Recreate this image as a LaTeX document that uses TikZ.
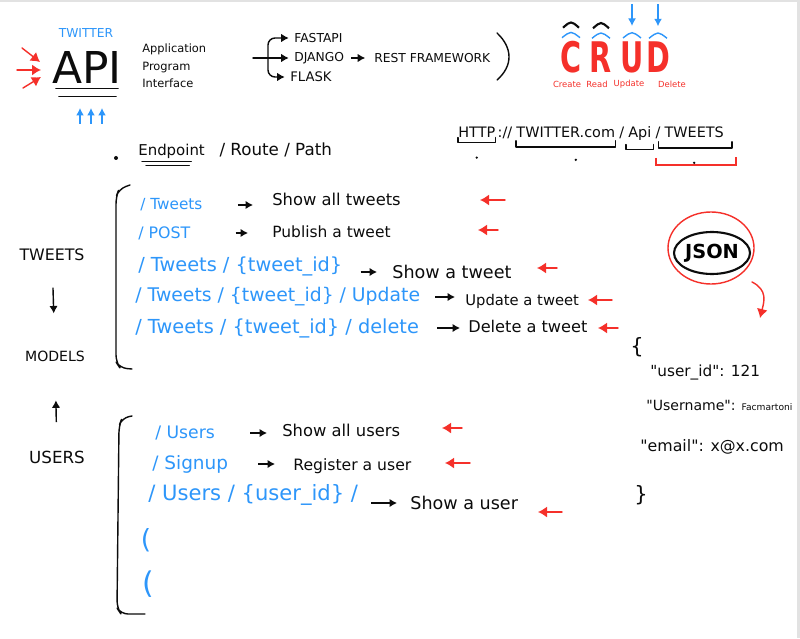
\documentclass[tikz,border=0pt]{standalone}
\usepackage{fontspec}
\setmainfont{DejaVu Sans}[Ligatures=TeXOff]
\usepackage{graphicx}
\usepackage{tikz}
\usetikzlibrary{arrows.meta,positioning,calc,shapes.geometric}
\definecolor{ink}{RGB}{12,12,12}
\definecolor{sky}{RGB}{45,150,250}
\definecolor{marker}{RGB}{245,48,42}
\definecolor{edge}{RGB}{226,226,226}
\newcommand{\fsz}[1]{\fontsize{#1}{#1}\selectfont}
\newcommand{\narrow}[1]{\scalebox{0.68}[1]{#1}}
\tikzset{
  hand/.style={thick,ink,line cap=round,line join=round},
  pointer/.style={thick,ink,-{Latex[length=1.5mm,width=1.7mm]}},
  flag/.style={thick,marker,line cap=round,-{Latex[length=1.8mm,width=2.2mm]}},
  tip/.style={thick,sky,-{Latex[length=1.5mm,width=1.6mm]}},
  route/.style={text=sky,anchor=west,inner sep=0pt},
  task/.style={text=ink,anchor=west,inner sep=0pt},
  note/.style={text=ink,inner sep=0pt},
  url/.style={text=ink,inner sep=0pt,font=\fsz{8.2}},
  crud/.style={text=marker,inner sep=0pt,font=\bfseries\fsz{24}},
  crudword/.style={text=marker,inner sep=0pt,font=\fsz{4.8}},
  gap/.style 2 args={shorten <=#1,shorten >=#2}
}

\begin{document}
\begin{tikzpicture}[x=0.02cm,y=-0.02cm]
  \fill[edge] (0,0) rectangle (800,638);
  \fill[white] (0,2.5) rectangle (797,638);
  \useasboundingbox (0,0) rectangle (800,638);

  % API corner
  \node[text=sky,inner sep=0pt,font=\fsz{7}] (twitter) at (86,33) {TWITTER};
  \node[note,font=\fsz{25}] (api) at (87,67) {API};
  \draw[hand] ($(api.south west)+(4,5)$) -- ($(api.south east)+(-4,5)$);
  \draw[hand] ($(api.south west)+(7,13)$) -- ($(api.south east)+(-6,13)$);
  \coordinate (h1) at (22,48); \coordinate (t1) at (40,62);
  \coordinate (h2) at (17,70); \coordinate (t2) at (41,70);
  \coordinate (h3) at (23,88); \coordinate (t3) at (41,77);
  \draw[flag] (h1) -- (t1);
  \draw[flag] (h2) -- (t2);
  \draw[flag] (h3) -- (t3);
  \foreach \x in {80,91,102}
    \draw[tip] (\x,124) -- (\x,108);
  \node[task,align=left,font=\fontsize{6.5}{10}\selectfont] (acronym) at (142,66)
    {Application\\Program\\Interface};

  % frameworks
  \coordinate (fwin) at (253,58);
  \coordinate (hub) at (268,58);
  \node[task,font=\fsz{7}] (fastapi) at (294,38) {FASTAPI};
  \node[task,font=\fsz{7}] (django) at (294,58) {DJANGO};
  \node[task,font=\fsz{7}] (rest) at (374,58) {REST FRAMEWORK};
  \node[task,font=\fsz{7.5}] (flask) at (290,77) {FLASK};
  \draw[hand] (fwin) -- (hub);
  \draw[pointer,rounded corners=4pt,shorten >=3pt] (hub) |- (fastapi.west);
  \draw[pointer,shorten >=3pt] (hub) -- (django.west);
  \draw[pointer,rounded corners=4pt,shorten >=3pt] (hub) |- (flask.west);
  \draw[pointer,gap={4pt}{5pt}] (django) -- (rest);
  \draw[hand] (497,33) .. controls (513,48) and (513,66) .. (497,80);

  % CRUD
  \node[crud] (crudc) at (571,57) {\narrow{C}};
  \node[crud] (crudr) at (601,57) {\narrow{R}};
  \node[crud] (crudu) at (632,57) {\narrow{U}};
  \node[crud] (crudd) at (658,57) {\narrow{D}};
  \foreach \l in {crudc,crudr,crudu,crudd}
    \draw[sky,thick] ($(\l.north)+(-9,-3)$) .. controls ($(\l.north)+(0,-10)$) .. ($(\l.north)+(9,-3)$);
  \foreach \l in {crudc,crudr}
    \draw[ink,very thick] ($(\l.north)+(-8,-13)$) .. controls ($(\l.north)+(0,-20)$) .. ($(\l.north)+(8,-13)$);
  \draw[tip] ($(crudu.north)+(0,-37)$) -- ($(crudu.north)+(0,-15)$);
  \draw[tip] ($(crudd.north)+(0,-37)$) -- ($(crudd.north)+(0,-15)$);
  \node[crudword] (create) at (567,84) {Create};
  \node[crudword] (read) at (597,84) {Read};
  \node[crudword] (update) at (629,84) {Update};
  \node[crudword] (delete) at (672,84) {Delete};

  % endpoint
  \fill[ink] (116,158) circle (2);
  \node[task,font=\fsz{8.5}] (endpoint) at (138,151) {Endpoint};
  \node[url,font=\fsz{9.5},base right=8pt of endpoint] (routepath) {/ Route / Path};
  \draw[hand] ($(endpoint.south west)+(4,3)$) -- ($(endpoint.south east)+(-14,3)$);
  \draw[hand] ($(endpoint.south west)+(8,7)$) -- ($(endpoint.south east)+(-16,7)$);

  % url
  \node[url,anchor=west] (http) at (458,132) {HTTP};
  \node[url,base right=1pt of http] (colon) {://};
  \node[url,base right=2pt of colon] (host) {TWITTER.com};
  \node[url,base right=2pt of host] (slasha) {/};
  \node[url,base right=2pt of slasha] (apipart) {Api};
  \node[url,base right=2pt of apipart] (slashb) {/};
  \node[url,base right=2pt of slashb] (tweetspart) {TWEETS};
  \draw[hand] (http.south west) -- ++(0,5) -| (http.south east);
  \draw[hand] ($(host.south west)+(0,3)$) -- ++(0,6) -| ($(host.south east)+(0,3)$);
  \draw[hand] ($(apipart.south west)+(-2,4)$) -- ++(0,5) -| ($(apipart.south east)+(2,4)$);
  \draw[hand] ($(tweetspart.south west)+(-6,4)$) -- ++(0,6) -| ($(tweetspart.south east)+(8,4)$);
  \draw[marker,very thick] ($(tweetspart.south west)+(-8,20)$) -- ++(0,7) -| ($(tweetspart.south east)+(12,19)$);
  \fill[ink] ($(http.south)+(0,20)$) circle (1.3);
  \fill[ink] ($(host.south)+(10,22)$) circle (1.3);
  \fill[ink] ($(tweetspart.south)+(0,25)$) circle (1.3);

  % group labels
  \node[note,font=\fsz{9}] (tweetsgrp) at (52,255) {TWEETS};
  \node[note,font=\fsz{8}] (models) at (55,356) {MODELS};
  \node[note,font=\fsz{9.5}] (usersgrp) at (57,457) {USERS};
  \draw[pointer,gap={15pt}{21pt}] (tweetsgrp) -- (models);
  \draw[pointer,gap={16pt}{22pt}] (usersgrp) -- (models);

  % tweets routes
  \draw[hand,rounded corners=4pt] (130,185) -- (119,189) -- (116,197) -- (116,362) -- (120,368) -- (132,369);
  \node[route,font=\fsz{8.7}] (r1) at (140,205) {/ Tweets};
  \node[route,font=\fsz{9}] (r2) at (138,233) {/ POST};
  \node[route,font=\fsz{11}] (r3) at (138,266) {/ Tweets / \{tweet\_id\}};
  \node[route,font=\fsz{10.7}] (r4) at (135,297) {/ Tweets / \{tweet\_id\} / Update};
  \node[route,font=\fsz{11}] (r5) at (135,328) {/ Tweets / \{tweet\_id\} / delete};
  \node[task,font=\fsz{9.3}] (d1) at (272,199) {Show all tweets};
  \node[task,font=\fsz{8.8}] (d2) at (272,232) {Publish a tweet};
  \node[task,font=\fsz{10}] (d3) at (392,272) {Show a tweet};
  \node[task,font=\fsz{8.4}] (d4) at (465,301) {Update a tweet};
  \node[task,font=\fsz{9.2}] (d5) at (468,326) {Delete a tweet};
  \draw[pointer,gap={7mm}{3.8mm}] (r1.east) -- (r1.east -| d1.west);
  \draw[pointer,gap={9mm}{4.8mm}] (r2.east) -- (r2.east -| d2.west);
  \draw[pointer,gap={3.6mm}{3mm}] (r3.east |- d3.west) -- (d3.west);
  \draw[pointer,gap={3mm}{2mm}] (r4.east) -- (r4.east -| d4.west);
  \draw[pointer,gap={3.6mm}{1.6mm}] (r5.east) -- (r5.east -| d5.west);
  \coordinate (f1) at (505,200); \coordinate (g1) at (480,200);
  \coordinate (f2) at (498,230); \coordinate (g2) at (478,230);
  \coordinate (f3) at (557,268); \coordinate (g3) at (537,268);
  \coordinate (f4) at (612,300); \coordinate (g4) at (588,300);
  \coordinate (f5) at (618,328); \coordinate (g5) at (598,328);
  \draw[flag] (f1) -- (g1);
  \draw[flag] (f2) -- (g2);
  \draw[flag] (f3) -- (g3);
  \draw[flag] (f4) -- (g4);
  \draw[flag] (f5) -- (g5);

  % users routes
  \draw[hand,rounded corners=4pt] (132,416) -- (122,418) -- (119,426) -- (117,608) -- (121,614) -- (145,614);
  \node[route,font=\fsz{9.8}] (u1) at (155,433) {/ Users};
  \node[route,font=\fsz{10.5}] (u2) at (152,464) {/ Signup};
  \node[route,font=\fsz{12}] (u3) at (148,495) {/ Users / \{user\_id\} /};
  \node[task,font=\fsz{9.3}] (e1) at (282,430) {Show all users};
  \node[task,font=\fsz{8.9}] (e2) at (293,466) {Register a user};
  \node[task,font=\fsz{10}] (e3) at (410,503) {Show a user};
  \draw[pointer,gap={7mm}{3mm}] (u1.east) -- (u1.east -| e1.west);
  \draw[pointer,gap={6mm}{3.6mm}] (u2.east) -- (u2.east -| e2.west);
  \draw[pointer,gap={2.6mm}{2.6mm}] (e3.west -| u3.east) -- (e3.west);
  \coordinate (f6) at (462,428); \coordinate (g6) at (442,428);
  \coordinate (f7) at (470,463); \coordinate (g7) at (445,463);
  \coordinate (f8) at (562,512); \coordinate (g8) at (538,512);
  \draw[flag] (f6) -- (g6);
  \draw[flag] (f7) -- (g7);
  \draw[flag] (f8) -- (g8);
  \node[text=sky,inner sep=0pt,font=\fsz{15}] (paren1) at (146,540) {(};
  \node[text=sky,inner sep=0pt,font=\fsz{17}] (paren2) at (148,584) {(};

  % json
  \node[draw=ink,very thick,ellipse,minimum width=1.44cm,minimum height=0.84cm,
    inner sep=0pt,font=\bfseries\fsz{11}] (json) at (712,253) {JSON};
  \draw[marker,thick] (711,248) ellipse [x radius=43,y radius=36];
  \coordinate (jtail) at (752,282);
  \coordinate (jtip) at (760,318);
  \draw[flag] (jtail) .. controls (768,290) and (764,302) .. (jtip);
  \node[note,font=\fsz{12}] (lbrace) at (637,347) {\{};
  \node[task,font=\fsz{8.7}] (uid) at (650,372) {"user\_id": 121};
  \node[task,font=\fsz{8}] (uname) at (646,405) {"Username": {\fsz{5.2}Facmartoni}};
  \node[task,font=\fsz{9}] (email) at (640,447) {"email": x@x.com};
  \node[note,font=\fsz{12}] (rbrace) at (641,495) {\}};
\end{tikzpicture}
\end{document}
